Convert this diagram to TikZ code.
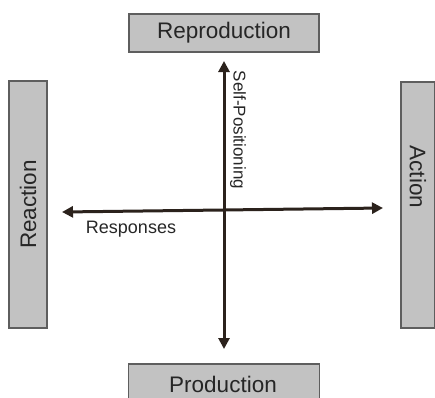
\documentclass[tikz,border=0pt]{standalone}
\usepackage{fontspec}
\setmainfont{Liberation Sans}
\usetikzlibrary{arrows.meta}
\definecolor{boxgray}{HTML}{C2C2C2}
\definecolor{edgegray}{HTML}{5E5E5E}
\definecolor{axisbrown}{HTML}{2B221C}
\definecolor{textgray}{HTML}{262626}

\begin{document}
\begin{tikzpicture}[x=1pt, y=-1pt,
    box/.style={rectangle, draw=edgegray, fill=boxgray, line width=1.2pt, inner sep=0pt, text=textgray, font=\fontsize{22.5}{26}\selectfont},
    axis/.style={line width=3pt, draw=axisbrown, {Triangle[length=11pt, width=11pt]}-{Triangle[length=11pt, width=11pt]}},
    axislabel/.style={text=textgray, inner sep=0pt}]
    \useasboundingbox (0, 0) rectangle (435, 397);

    \draw
    (224, 33) node[box, minimum width=190pt, minimum height=38pt](Rep){Reproduction}
    (224, 382) node[box, minimum width=191pt, minimum height=36pt](Prod){}
    (28, 204.5) node[box, rotate=90, minimum width=247pt, minimum height=38pt](React){Reaction}
    (418, 205) node[box, rotate=-90, minimum width=246pt, minimum height=34pt](Act){};

    \node[text=textgray, font=\fontsize{22.5}{26}\selectfont] (ProdText) at (223, 384) {Production};
    \node[text=textgray, rotate=-90, font=\fontsize{22.5}{26}\selectfont] (ActText) at (418, 177) {Action};

    \coordinate (Top) at (224, 61);
    \coordinate (Bot) at (224, 349);
    \coordinate (Lft) at (62, 212);
    \coordinate (Rgt) at (383, 208);

    \draw[axis] (Lft) -- (Rgt);
    \draw[axis] (Bot) -- (Top);

    \node[axislabel, rotate=-90, font=\fontsize{17}{20}\selectfont] (SelfPos) at (238, 130) {Self-Positioning};
    \node[axislabel, font=\fontsize{18}{21}\selectfont] (Resp) at (131, 229) {Responses};

  \end{tikzpicture}
\end{document}
